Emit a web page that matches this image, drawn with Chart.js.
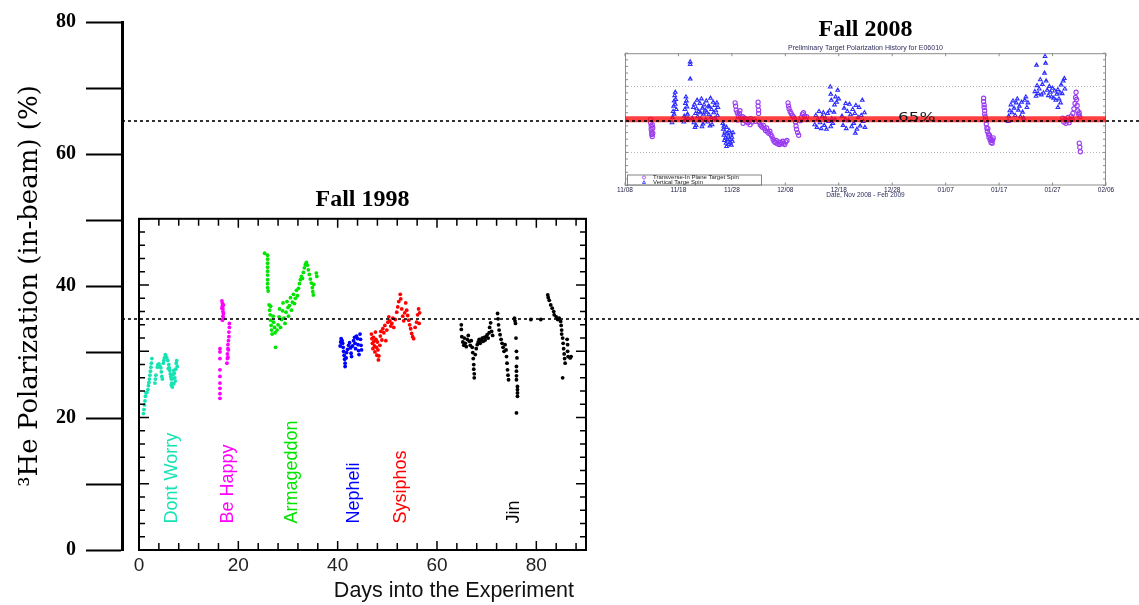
<!DOCTYPE html>
<html>
<head>
<meta charset="utf-8">
<script src="https://cdn.jsdelivr.net/npm/chart.js@4.4.1/dist/chart.umd.min.js"></script>
<style>
  html, body { margin: 0; padding: 0; background: #fff; }
  #wrap { position: relative; width: 1139px; height: 605px; overflow: hidden; }
  #wrap canvas { position: absolute; }
  #mainAxis { z-index: 3; }
</style>
</head>
<body>
<div id="wrap">
  <canvas id="fall1998" width="500" height="425" style="left:100px;top:180px"></canvas>
  <canvas id="fall2008" width="542" height="200" style="left:597px;top:0"></canvas>
  <canvas id="mainAxis" width="1139" height="605" style="left:0;top:0"></canvas>
</div>
<script>
// Main axis: 3He polarization (%), reference levels of the two runs
const mainTickLabels = [0, 20, 40, 60, 80];
const referenceLevels = [65, 35];

// Fall 1998 cells: [day into the experiment, polarization %]
const dontWorry = [[0.9,20.6],[1.0,21.2],[1.1,21.9],[1.2,22.5],[1.3,23.2],[1.4,23.7],[1.6,23.8],[1.8,24.2],[1.9,24.8],[2.0,25.3],[2.1,25.8],[2.2,26.4],[2.3,27.0],[2.4,27.6],[2.5,28.2],[2.6,28.9],[3.2,25.2],[3.3,25.8],[3.4,26.4],[3.7,27.6],[3.8,28.0],[4.0,28.1],[4.2,27.8],[4.4,27.5],[4.5,26.9],[4.6,26.2],[4.7,25.8],[4.9,28.2],[5.0,28.6],[5.1,29.0],[5.3,29.5],[5.4,29.3],[5.6,29.0],[5.8,28.6],[5.9,27.4],[6.0,28.0],[6.1,27.5],[6.2,27.1],[6.3,26.6],[6.4,26.2],[6.5,25.8],[6.5,24.9],[6.6,25.2],[6.7,24.6],[6.8,25.9],[6.9,26.5],[7.0,27.1],[7.0,25.1],[7.1,26.7],[7.2,26.0],[7.3,25.5],[7.4,27.3],[7.5,28.2],[7.6,28.6],[7.7,27.7]];
const beHappy = [[16.3,22.9],[16.3,23.6],[16.3,24.4],[16.3,25.2],[16.3,26.2],[16.3,27.2],[16.3,28.9],[16.3,29.9],[16.3,30.4],[16.7,37.6],[16.8,37.2],[16.8,36.8],[16.9,36.4],[16.9,36.0],[17.0,35.7],[16.9,35.3],[17.0,35.0],[16.8,34.7],[17.0,37.0],[16.7,36.5],[18.2,34.2],[18.2,33.6],[18.1,32.9],[18.1,32.2],[18.0,31.6],[17.9,31.0],[17.9,30.4],[17.8,29.6],[17.8,28.9],[17.7,28.2],[18.0,30.2],[17.9,29.1]];
const armageddon = [[25.3,44.8],[25.9,44.5],[25.9,43.9],[25.9,43.3],[25.9,42.7],[25.9,42.1],[25.9,41.5],[25.9,40.8],[25.9,40.2],[25.9,39.6],[26.0,39.1],[26.2,37.0],[26.3,36.2],[26.4,35.5],[26.5,34.7],[26.6,33.9],[26.7,33.2],[26.8,32.6],[26.5,36.8],[27.0,35.3],[27.1,34.4],[27.3,33.6],[27.5,30.6],[27.4,32.8],[27.8,33.2],[28.0,34.0],[28.2,35.2],[28.3,36.4],[28.5,33.6],[28.7,34.8],[28.9,36.1],[29.0,37.3],[29.2,35.0],[29.4,34.2],[29.6,35.9],[29.8,37.5],[30.0,36.6],[30.1,35.3],[30.3,36.9],[30.5,38.1],[30.7,36.2],[30.9,37.4],[31.1,38.6],[31.3,37.2],[31.5,38.0],[31.7,39.2],[31.9,38.4],[32.1,39.5],[32.3,40.2],[32.5,40.8],[32.7,41.3],[32.9,41.0],[33.1,41.9],[33.3,42.6],[33.5,43.1],[33.7,43.4],[33.9,43.0],[34.1,42.3],[34.3,41.6],[34.5,40.9],[34.7,40.3],[34.9,39.6],[35.0,39.0],[35.1,38.5],[35.2,40.1],[35.7,41.8],[35.8,41.3]];
const nepheli = [[40.5,30.8],[40.6,31.4],[40.7,31.9],[40.9,31.6],[41.0,31.2],[41.1,30.6],[41.2,30.0],[41.3,29.4],[41.4,28.8],[41.5,28.2],[41.5,27.7],[41.7,29.0],[41.8,29.8],[42.0,30.3],[42.2,30.9],[42.4,31.3],[42.6,30.5],[42.7,29.7],[42.8,29.2],[43.0,30.8],[43.2,31.6],[43.4,32.1],[43.5,31.2],[43.6,30.4],[43.8,32.3],[44.0,31.9],[44.1,31.0],[44.2,30.1],[44.3,29.5],[44.5,32.6],[44.6,31.8],[44.7,30.9],[44.8,30.2]];
const sysiphos = [[46.8,32.6],[46.9,31.9],[47.0,31.2],[47.1,30.4],[47.2,32.1],[47.3,31.5],[47.4,30.8],[47.5,29.9],[47.6,32.9],[47.7,31.8],[47.8,30.6],[47.9,29.4],[48.0,31.4],[48.1,30.2],[48.2,28.7],[48.3,29.3],[48.5,30.9],[48.6,32.3],[48.7,33.0],[48.9,31.7],[49.1,33.4],[49.3,32.8],[49.5,33.9],[49.7,31.6],[49.9,33.2],[50.1,34.4],[50.3,35.2],[50.5,34.6],[50.7,33.8],[50.9,34.2],[51.1,35.0],[51.3,33.6],[51.6,34.8],[51.9,35.9],[52.1,36.7],[52.3,37.5],[52.6,38.6],[52.7,37.9],[52.9,36.4],[53.1,35.3],[53.3,34.6],[53.5,35.8],[53.7,37.3],[53.9,36.2],[54.1,35.4],[54.3,34.7],[54.5,34.0],[54.7,33.4],[54.9,32.7],[55.1,32.2],[55.3,31.9],[55.6,33.6],[55.9,34.4],[56.1,35.5],[56.3,36.4],[56.5,35.8],[56.4,34.2]];
const jin = [[64.9,34.0],[64.9,33.3],[65.0,32.2],[65.2,31.4],[65.4,30.9],[65.5,32.0],[65.7,31.2],[65.9,30.7],[66.1,31.8],[66.3,32.4],[66.5,31.5],[66.7,30.9],[66.9,31.6],[67.1,30.6],[67.2,29.8],[67.3,28.9],[67.4,28.0],[67.4,27.3],[67.5,26.6],[67.5,26.0],[67.7,29.5],[67.9,30.4],[68.1,31.0],[68.3,31.4],[68.5,31.8],[68.7,31.2],[68.9,31.6],[69.1,32.0],[69.3,31.5],[69.5,32.1],[69.7,31.7],[69.9,32.2],[70.1,32.5],[70.3,32.0],[70.5,32.8],[70.6,33.6],[70.8,34.3],[71.0,33.0],[71.2,32.4],[72.2,35.7],[72.3,34.9],[72.4,34.0],[72.5,33.2],[72.7,32.5],[72.9,31.8],[73.1,31.2],[73.3,30.6],[73.5,30.0],[73.7,31.0],[73.9,30.2],[74.0,29.2],[74.1,28.2],[74.2,27.2],[74.3,26.4],[74.4,25.7],[75.6,35.0],[75.7,34.6],[75.8,34.2],[75.9,32.0],[76.0,30.0],[76.1,29.0],[76.0,27.7],[76.0,27.0],[76.0,26.3],[76.0,25.7],[76.2,24.7],[76.2,24.2],[76.2,23.7],[76.2,23.2],[76.0,20.7],[78.9,34.8],[80.9,34.8],[82.3,38.5],[82.4,38.1],[82.6,37.7],[82.9,37.0],[83.2,36.5],[83.5,36.0],[83.6,35.5],[84.0,35.2],[84.3,34.8],[84.6,35.0],[84.9,34.5],[85.0,33.9],[85.1,33.2],[85.1,32.6],[85.3,32.0],[85.4,31.2],[85.5,30.4],[85.6,29.6],[85.7,28.9],[85.8,28.2],[85.3,26.0],[86.2,31.8],[86.3,31.0],[86.3,30.0],[86.4,29.2],[86.8,29.0],[87.0,29.2]];

const cellSeries = [dontWorry, beHappy, armageddon, nepheli, sysiphos, jin];
const cellNames = ['Dont Worry', 'Be Happy', 'Armageddon', 'Nepheli', 'Sysiphos', 'Jin'];
const cellColors = ['#16e3b3', '#ff00ff', '#00e400', '#0000ff', '#ff0000', '#000000'];
const cellLabelDays = [6.6, 17.9, 30.9, 43.2, 52.7, 75.6];
const cellLabelBase = 4;

// Fall 2008 (E06010): [days since 11/08/2008, polarization %]
const transverseSpin = [[4.8,65.0],[4.8,64.5],[4.9,64.0],[4.9,63.5],[5.0,63.1],[5.0,62.7],[5.1,62.4],[5.1,64.2],[5.2,63.7],[5.2,62.9],
  [20.6,67.5],[20.7,67.0],[20.8,66.4],[21.0,66.0],[21.1,64.9],[21.2,65.6],[21.4,65.9],[21.5,66.3],[21.6,65.3],[21.8,65.0],[22.0,65.4],[22.1,64.4],[22.2,64.9],[22.4,65.2],[22.6,64.7],[22.8,65.0],[23.0,64.5],[23.2,64.8],[23.4,64.2],[23.5,65.1],[23.8,64.6],[24.1,65.0],[24.4,64.7],
  [24.9,67.6],[24.9,67.0],[25.0,66.4],[25.0,65.9],
  [25.1,64.6],[25.3,64.2],[25.5,64.0],[25.7,63.8],[25.9,64.1],[26.1,63.6],[26.3,63.3],[26.5,63.7],[26.7,63.1],[26.9,62.9],[27.1,63.2],[27.3,62.7],[27.5,62.4],
  [27.7,62.0],[27.9,61.7],[28.1,61.5],[28.3,61.8],[28.5,61.3],[28.7,61.6],[28.9,61.2],[29.1,61.5],[29.3,61.3],[29.5,61.7],[29.7,61.4],[29.9,61.2],[30.1,61.6],[30.3,61.8],
  [30.5,67.5],[30.6,67.0],[30.7,66.6],[30.9,66.2],[31.1,65.9],[31.3,65.6],[31.5,65.4],[31.7,65.1],
  [31.9,64.6],[32.0,64.0],[32.1,63.5],[32.3,63.0],[32.5,62.6],
  [32.8,64.8],[33.0,65.3],[33.2,65.8],[33.4,66.0],[33.6,65.5],[33.8,65.0],[34.0,65.4],
  [67.1,68.2],[67.1,67.7],[67.2,67.2],[67.2,66.8],[67.3,66.3],[67.3,65.8],[67.4,65.4],
  [67.5,64.9],[67.6,64.3],[67.7,63.7],[67.8,63.2],[67.9,63.6],[68.0,62.8],[68.1,62.3],[68.2,62.6],[68.3,61.9],[68.4,62.1],[68.5,61.5],[68.6,61.8],[68.7,61.4],[68.8,61.9],[68.9,62.2],
  [81.9,65.2],[82.1,64.6],[82.3,65.0],[82.5,64.4],[82.7,64.8],[82.9,65.3],[83.1,64.5],[83.3,64.9],[83.5,65.5],[83.7,65.0],
  [83.8,65.9],[84.0,66.6],[84.2,67.4],[84.3,68.3],[84.4,69.1],[84.5,68.0],[84.6,67.1],[84.7,66.3],[84.9,65.7],[85.0,66.0],[85.1,65.4],
  [85.0,61.4],[85.1,60.8],[85.2,60.1]];
const verticalSpin = [[8.8,64.5],[8.9,65.3],[9.0,66.2],[9.1,67.0],[9.2,67.8],[9.2,65.8],[9.3,68.6],[9.4,69.1],[9.4,67.3],[9.5,68.0],[9.6,66.5],
  [11.0,64.6],[11.1,65.5],[11.2,66.5],[11.3,67.4],[11.3,64.9],[11.4,68.4],[11.5,67.8],[11.6,66.9],[11.7,65.8],[11.8,65.1],
  [12.2,73.7],[12.2,73.3],[12.2,71.1],
  [12.6,65.2],[12.8,66.8],[12.9,64.5],[13.0,67.3],[13.1,63.8],[13.2,65.9],[13.3,64.1],[13.4,66.6],[13.5,67.9],[13.6,65.4],[13.8,66.2],[13.9,64.8],[14.0,67.4],[14.1,66.0],[14.2,65.1],[14.3,68.1],[14.4,63.9],[14.5,66.7],[14.6,64.3],[14.7,65.8],[14.8,67.2],[15.0,66.4],[15.1,65.0],[15.2,67.8],[15.3,66.1],[15.5,64.6],[15.6,67.0],[15.7,65.7],[15.8,66.9],[15.9,64.0],[16.0,68.2],[16.1,65.3],[16.2,66.5],[16.3,64.2],[16.5,67.6],[16.6,66.0],[16.7,65.1],[16.8,67.1],[17.0,66.3],[17.1,64.9],[17.2,67.5],[17.3,65.6],[17.4,66.8],
  [18.3,64.4],[18.4,63.5],[18.5,62.6],[18.5,64.0],[18.6,61.8],[18.7,63.1],[18.8,62.2],[18.9,61.4],[19.0,63.8],[19.0,60.9],[19.1,62.9],[19.2,61.9],[19.3,62.5],[19.4,61.2],[19.5,63.3],[19.6,62.0],[19.7,61.5],[19.8,62.8],[19.9,61.1],[20.0,62.3],[20.1,61.7],[20.2,63.0],
  [35.5,64.2],[35.7,65.6],[35.9,63.8],[36.1,65.0],[36.3,66.2],[36.5,64.5],[36.7,63.6],[36.9,65.4],[37.1,66.0],[37.3,64.1],[37.5,65.2],[37.7,63.5],[37.9,65.9],[38.1,64.7],[38.3,66.3],[38.5,63.9],[38.7,65.1],[38.9,64.4],[39.1,66.1],[39.3,65.0],
  [38.4,69.9],[38.5,68.8],[38.6,67.9],[39.2,67.2],[39.4,68.4],[39.6,67.6],[39.8,69.4],[40.0,68.1],
  [40.6,65.5],[40.8,64.1],[41.0,66.7],[41.2,65.0],[41.3,67.4],[41.4,63.6],[41.6,66.2],[41.8,64.8],[42.0,67.3],[42.2,65.7],[42.4,63.9],[42.6,66.5],[42.8,64.4],[43.0,65.9],[43.1,62.9],[43.2,67.1],[43.4,63.5],[43.6,65.3],[43.8,66.8],[44.0,64.0],[44.2,65.6],[44.4,67.9],[44.6,64.7],[44.8,66.0],[44.9,63.8],
  [71.7,64.7],[71.8,65.5],[72.0,66.3],[72.2,67.2],[72.4,66.0],[72.6,67.8],[72.8,66.7],[73.0,65.6],[73.2,67.5],[73.4,68.1],[73.6,66.4],[73.8,67.0],[74.0,65.4],[74.2,67.6],[74.4,66.1],[74.6,65.2],[74.8,67.9],[75.0,68.4],[75.2,66.8],[75.4,67.5],
  [76.7,69.2],[76.9,68.5],[77.0,73.2],[77.1,70.1],[77.3,68.9],[77.5,69.6],[77.7,71.0],[77.9,68.7],[78.1,70.3],[78.3,69.0],[78.5,72.0],[78.6,74.5],[78.7,73.5],[78.8,70.8],[79.0,69.4],[79.2,68.6],[79.4,70.0],[79.6,69.1],[79.8,68.4],[80.0,69.7],[80.2,68.2],[80.4,69.3],[80.6,67.9],[80.8,68.8],[81.0,69.5],[81.0,66.8],[81.2,68.1],[81.4,69.0],[81.5,67.5],[81.6,70.2],[81.8,68.9],[82.0,70.8],[82.2,71.2],[82.3,69.6]];
const dateTickLabels = ['11/08', '11/18', '11/28', '12/08', '12/18', '12/28', '01/07', '01/17', '01/27', '02/06'];
const historyGuides = [60, 70];
const bandLabel = '65%';
const bandLabelDay = 51.1;

const toPoints = pairs => pairs.map(([x, y]) => ({ x, y }));
const serif = '"Liberation Serif", "DejaVu Serif", serif';
const sans = '"Liberation Sans", Arial, sans-serif';

// inward ticks + box around the Fall 1998 panel
const insetFrame = {
  id: 'insetFrame',
  afterDatasetsDraw(chart) {
    const { ctx, chartArea: a, scales: { x, y } } = chart;
    ctx.save();
    ctx.strokeStyle = '#000';
    ctx.lineWidth = 1.5;
    ctx.beginPath();
    for (let v = 0; v <= x.max; v += 4) {
      const px = x.getPixelForValue(v);
      const len = v % 20 === 0 ? 9 : 7;
      ctx.moveTo(px, a.bottom); ctx.lineTo(px, a.bottom - len);
      ctx.moveTo(px, a.top); ctx.lineTo(px, a.top + len);
    }
    for (let v = 0; v <= y.max; v += 2) {
      const py = y.getPixelForValue(v);
      const len = v % 10 === 0 ? 10 : 6;
      ctx.moveTo(a.left, py); ctx.lineTo(a.left + len, py);
      ctx.moveTo(a.right, py); ctx.lineTo(a.right - len, py);
    }
    ctx.stroke();
    ctx.lineWidth = 2;
    ctx.strokeRect(a.left, a.top, a.width, a.height);
    ctx.restore();
  }
};

// rotated cell names under each data group
const cellLabels = {
  id: 'cellLabels',
  afterDatasetsDraw(chart) {
    const { ctx, scales: { x, y } } = chart;
    ctx.save();
    ctx.font = '18px ' + sans;
    ctx.textAlign = 'left';
    ctx.textBaseline = 'middle';
    cellNames.forEach((name, i) => {
      ctx.save();
      ctx.translate(x.getPixelForValue(cellLabelDays[i]), y.getPixelForValue(cellLabelBase));
      ctx.rotate(-Math.PI / 2);
      ctx.fillStyle = cellColors[i];
      ctx.fillText(name, 0, 0);
      ctx.restore();
    });
    ctx.restore();
  }
};

// frame, guides, ticks, 65% label and legend of the Fall 2008 panel
const historyFrame = {
  id: 'historyFrame',
  beforeDatasetsDraw(chart) {
    const { ctx, chartArea: a, scales: { x, y } } = chart;
    ctx.save();
    ctx.strokeStyle = '#b5b5b5';
    ctx.lineWidth = 1;
    ctx.setLineDash([1, 2]);
    ctx.beginPath();
    historyGuides.forEach(v => {
      const py = Math.round(y.getPixelForValue(v)) + 0.5;
      ctx.moveTo(a.left, py); ctx.lineTo(a.right, py);
    });
    ctx.stroke();
    ctx.setLineDash([]);
    ctx.strokeStyle = '#8c8c8c';
    ctx.beginPath();
    for (let v = y.min; v <= y.max; v += 1) {
      const py = y.getPixelForValue(v);
      ctx.moveTo(a.left, py); ctx.lineTo(a.left + 3, py);
      ctx.moveTo(a.right, py); ctx.lineTo(a.right - 3, py);
    }
    for (let v = x.min; v <= x.max; v += 10) {
      const px = x.getPixelForValue(v);
      ctx.moveTo(px, a.top); ctx.lineTo(px, a.top + 3);
      ctx.moveTo(px, a.bottom); ctx.lineTo(px, a.bottom - 3);
    }
    ctx.stroke();
    ctx.strokeRect(a.left + 0.5, a.top + 0.5, a.width - 1, a.height - 1);
    ctx.restore();
  },
  afterDatasetsDraw(chart) {
    const { ctx, chartArea: a, scales: { x, y } } = chart;
    const sets = chart.data.datasets;
    ctx.save();
    // 65% text, a bit stretched like the scanned original
    ctx.fillStyle = '#1a1a1a';
    ctx.font = '13px "DejaVu Sans", sans-serif';
    ctx.textBaseline = 'alphabetic';
    ctx.translate(x.getPixelForValue(bandLabelDay), y.getPixelForValue(64.8));
    ctx.scale(1.3, 1);
    ctx.fillText(bandLabel, 0, 0);
    ctx.restore();

    ctx.save();
    const bx = a.left + 2, by = a.bottom - 11, bw = 134, bh = 10;
    ctx.fillStyle = '#fff';
    ctx.fillRect(bx, by, bw, bh);
    ctx.strokeStyle = '#666';
    ctx.lineWidth = 0.8;
    ctx.strokeRect(bx + 0.5, by + 0.5, bw, bh);
    ctx.font = '6px ' + sans;
    ctx.textBaseline = 'middle';
    ctx.fillStyle = '#222';
    [1, 2].forEach((k, row) => {
      const ly = by + 3 + row * 4.6;
      ctx.strokeStyle = sets[k].borderColor;
      ctx.beginPath();
      if (k === 1) {
        ctx.arc(bx + 17, ly, 1.6, 0, Math.PI * 2);
      } else {
        ctx.moveTo(bx + 15.5, ly + 1.4); ctx.lineTo(bx + 17, ly - 1.4); ctx.lineTo(bx + 18.5, ly + 1.4); ctx.closePath();
      }
      ctx.stroke();
      ctx.fillText(sets[k].label, bx + 26, ly);
    });
    ctx.restore();
  }
};

// main left axis with the two dotted reference levels (drawn on top)
new Chart(document.getElementById('mainAxis'), {
  type: 'line',
  data: {
    datasets: referenceLevels.map(level => ({
      data: [{ x: 0, y: level }, { x: 1, y: level }],
      borderColor: '#000',
      borderWidth: 1.6,
      borderDash: [3, 3],
      pointRadius: 0
    }))
  },
  options: {
    responsive: false,
    animation: false,
    layout: { padding: { top: 20, bottom: 55, left: 0, right: 0 } },
    plugins: { legend: { display: false }, tooltip: { enabled: false } },
    scales: {
      x: { type: 'linear', min: 0, max: 1, display: false },
      y: {
        min: 0,
        max: 80,
        afterFit: s => { s.width = 122; },
        ticks: {
          stepSize: 10,
          padding: 10,
          color: '#000',
          font: { family: serif, size: 20, weight: 'bold' },
          callback: v => mainTickLabels.includes(v) ? v : ''
        },
        grid: { drawOnChartArea: false, tickLength: 36, tickWidth: 2, tickColor: '#000' },
        border: { color: '#000', width: 3 },
        title: {
          display: true,
          text: '³He Polarization (in-beam) (%)',
          color: '#000',
          font: { family: '"DejaVu Serif", serif', size: 26 },
          padding: { top: 15, bottom: 0 }
        }
      }
    }
  }
});

// Fall 1998 panel
new Chart(document.getElementById('fall1998'), {
  type: 'scatter',
  data: {
    datasets: cellSeries.map((s, i) => ({
      label: cellNames[i],
      data: toPoints(s),
      backgroundColor: cellColors[i],
      borderWidth: 0,
      pointRadius: 1.9
    }))
  },
  options: {
    responsive: false,
    animation: false,
    layout: { padding: { left: 39, right: 14, top: 0, bottom: 0 } },
    plugins: {
      legend: { display: false },
      tooltip: { enabled: false },
      title: {
        display: true,
        text: 'Fall 1998',
        color: '#000',
        font: { family: serif, size: 24, weight: 'bold' },
        padding: { top: 5, bottom: 5 }
      }
    },
    scales: {
      x: {
        type: 'linear',
        min: 0,
        max: 90,
        afterFit: s => { s.height = 55; },
        grid: { display: false, drawTicks: false },
        border: { display: false },
        ticks: { stepSize: 20, includeBounds: false, padding: 4, maxRotation: 0, color: '#222', font: { family: sans, size: 19 } },
        title: {
          display: true,
          text: 'Days into the Experiment  ',
          align: 'end',
          color: '#111',
          font: { family: sans, size: 21.5 },
          padding: { top: 0, bottom: 1 }
        }
      },
      y: { min: 0, max: 50, display: false }
    }
  },
  plugins: [insetFrame, cellLabels]
});

// Fall 2008 panel
new Chart(document.getElementById('fall2008'), {
  type: 'scatter',
  data: {
    datasets: [
      {
        label: '65% band',
        data: [{ x: 0, y: referenceLevels[0] }, { x: 90, y: referenceLevels[0] }],
        showLine: true,
        borderColor: 'rgba(255, 10, 10, 0.78)',
        borderWidth: 6,
        pointRadius: 0
      },
      {
        label: 'Transverse-In Plane Target Spin',
        data: toPoints(transverseSpin),
        pointStyle: 'circle',
        pointRadius: 2.1,
        borderColor: '#9a3cf0',
        backgroundColor: 'rgba(0,0,0,0)',
        borderWidth: 1.1
      },
      {
        label: 'Vertical Targe Spin',
        data: toPoints(verticalSpin),
        pointStyle: 'triangle',
        pointRadius: 2.1,
        borderColor: '#2f2fff',
        backgroundColor: 'rgba(0,0,0,0)',
        borderWidth: 1.1
      }
    ]
  },
  options: {
    responsive: false,
    animation: false,
    layout: { padding: { left: 28, right: 33, top: 0, bottom: 0 } },
    plugins: {
      legend: { display: false },
      tooltip: { enabled: false },
      title: {
        display: true,
        text: 'Fall 2008',
        color: '#000',
        font: { family: serif, size: 24, weight: 'bold' },
        padding: { top: 15, bottom: 0 }
      },
      subtitle: {
        display: true,
        text: 'Preliminary Target Polarization History for E06010',
        color: '#2e2e5c',
        font: { family: sans, size: 7 },
        padding: { top: 0, bottom: 1 }
      }
    },
    scales: {
      x: {
        type: 'linear',
        min: 0,
        max: 90,
        afterFit: s => { s.height = 14.5; },
        grid: { display: false, drawTicks: false },
        border: { display: false },
        ticks: {
          stepSize: 10,
          padding: 1,
          maxRotation: 0,
          autoSkip: false,
          color: '#222244',
          font: { family: sans, size: 6.5 },
          callback: v => dateTickLabels[Math.round(v / 10)]
        },
        title: {
          display: true,
          text: 'Date, Nov 2008 - Feb 2009',
          color: '#2e2e5c',
          font: { family: sans, size: 6.5 },
          padding: { top: 0, bottom: 1 }
        }
      },
      y: { min: 55, max: 75, display: false }
    }
  },
  plugins: [historyFrame]
});
</script>
</body>
</html>
